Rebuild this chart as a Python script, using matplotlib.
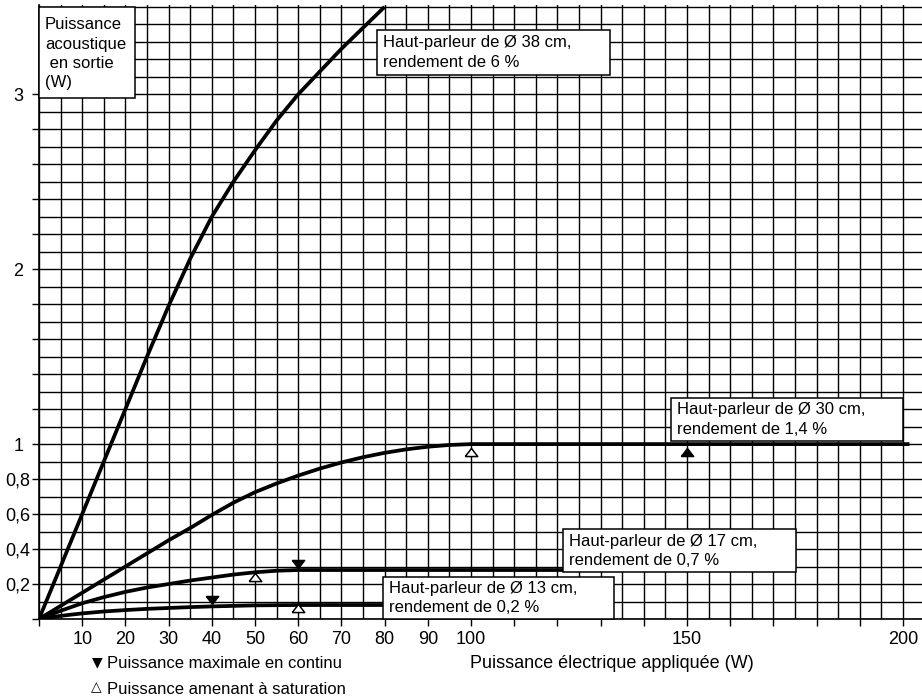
import matplotlib
matplotlib.use("Agg")
import matplotlib.pyplot as plt
from matplotlib.patches import Rectangle

plt.rcParams['font.family'] = ['Liberation Sans', 'DejaVu Sans']
plt.rcParams['font.size'] = 12

# Puissance électrique appliquée (W) -> puissance acoustique (W)
x_38 = [0, 5, 10, 15, 20, 25, 30, 35, 40, 45, 50, 55, 60, 65, 70, 75, 80]
y_38 = [0, 0.3, 0.6, 0.9, 1.2, 1.5, 1.79, 2.06, 2.3, 2.5, 2.68, 2.85, 3.0, 3.13, 3.26, 3.38, 3.5]

x_30 = [0, 5, 10, 15, 20, 25, 30, 35, 40, 45, 50, 55, 60, 65, 70, 75, 80, 85, 90, 95, 100, 201.5]
y_30 = [0, 0.075, 0.15, 0.225, 0.3, 0.375, 0.45, 0.52, 0.595, 0.665, 0.725, 0.775, 0.82,
        0.86, 0.895, 0.925, 0.95, 0.97, 0.985, 0.995, 1.0, 1.0]

x_17 = [0, 5, 10, 15, 20, 25, 30, 35, 40, 45, 50, 55, 60, 125]
y_17 = [0, 0.047, 0.09, 0.125, 0.155, 0.18, 0.2, 0.22, 0.237, 0.254, 0.267, 0.276, 0.28, 0.28]

x_13 = [0, 5, 10, 15, 20, 25, 30, 35, 40, 45, 50, 55, 60, 85]
y_13 = [0, 0.018, 0.032, 0.043, 0.051, 0.058, 0.063, 0.068, 0.072, 0.075, 0.078, 0.079, 0.08, 0.08]

# repères : puissance max en continu (plein) / saturation (vide)
max_x = [40, 60]
max_y = [0.109, 0.314]
max30_x = [150]
max30_y = [0.957]
sat_x = [60, 50, 100]
sat_y = [0.061, 0.242, 0.953]

xtick_vals = list(range(0, 201, 10))
xtick_labels = [str(v) if (v <= 100 or v in (150, 200)) and v > 0 else '' for v in xtick_vals]
ytick_vals = [0.2 * i for i in range(0, 16)]
ytick_labels = {0.2: '0,2', 0.4: '0,4', 0.6: '0,6', 0.8: '0,8', 1.0: '1', 2.0: '2', 3.0: '3'}

# boîtes de texte (x0, x1, y0, y1 en unités des axes), texte
boxes = [
    ((78.2, 132.2, 3.11, 3.368), "Haut-parleur de Ø 38 cm,\nrendement de 6 %"),
    ((146.2, 199.9, 1.018, 1.264), "Haut-parleur de Ø 30 cm,\nrendement de 1,4 %"),
    ((121.3, 175.2, 0.267, 0.515), "Haut-parleur de Ø 17 cm,\nrendement de 0,7 %"),
    ((79.6, 133.1, 0.0, 0.24), "Haut-parleur de Ø 13 cm,\nrendement de 0,2 %"),
]

fig = plt.figure(figsize=(9.22, 6.99), dpi=100)
ax = fig.add_axes([39 / 922, 1 - 619 / 699, 1 - 39 / 922, (619 - 5.1) / 699])
ax.set_xlim(0, 204.4)
ax.set_ylim(0, 3.51)

# quadrillage
ax.set_xticks([5 * i for i in range(41)], minor=True)
ax.set_yticks([0.1 * i for i in range(36)], minor=True)
ax.set_xticks(xtick_vals)
ax.set_xticklabels(xtick_labels)
ax.set_yticks(ytick_vals)
ax.set_yticklabels([ytick_labels.get(round(v, 1), '') for v in ytick_vals])
ax.grid(True, which='both', color='black', linewidth=1.0)
ax.set_axisbelow(True)
ax.tick_params(which='minor', length=0)
ax.tick_params(axis='x', which='major', length=5, width=1, pad=4, labelsize=13)
ax.tick_params(axis='y', which='major', length=5, width=1, pad=10, labelsize=13)
for lab in ax.get_yticklabels():
    lab.set_horizontalalignment('center')
for s in ['top', 'right']:
    ax.spines[s].set_visible(False)
ax.spines['left'].set_linewidth(1.2)
ax.spines['bottom'].set_linewidth(1.2)

for xs, ys in [(x_38, y_38), (x_30, y_30), (x_17, y_17), (x_13, y_13)]:
    ax.plot(xs, ys, color='black', linewidth=2.7, solid_capstyle='butt',
            solid_joinstyle='round', zorder=3)

down_tri = [(-1, 0.65), (1, 0.65), (0, -0.65), (-1, 0.65)]
up_tri = [(-1, -0.65), (1, -0.65), (0, 0.65), (-1, -0.65)]
ax.plot(max_x, max_y, linestyle='none', marker=down_tri, markersize=9,
        color='black', zorder=4)
ax.plot(max30_x, max30_y, linestyle='none', marker=up_tri, markersize=9,
        color='black', zorder=4)
ax.plot(sat_x, sat_y, linestyle='none', marker=up_tri, markersize=9,
        markerfacecolor='white', markeredgecolor='black', markeredgewidth=1.1, zorder=4)

for (x0, x1, y0, y1), txt in boxes:
    ax.add_patch(Rectangle((x0, y0), x1 - x0, y1 - y0, facecolor='white',
                           edgecolor='black', linewidth=1.1, zorder=5, clip_on=False))
    ax.text(x0 + 1.5, (y0 + y1) / 2, txt, ha='left', va='center', fontsize=12,
            linespacing=1.35, zorder=6)

# titre de l'axe vertical dans sa boîte
ax.add_patch(Rectangle((0, 2.98), 22.2, 3.5 - 2.98, facecolor='white',
                       edgecolor='black', linewidth=1.1, zorder=5, clip_on=False))
ax.text(1.4, 3.44, "Puissance\nacoustique\n en sortie\n(W)", ha='left', va='top',
        fontsize=12, linespacing=1.35, zorder=6)

fig.text(470 / 922, 1 - 664 / 699, "Puissance électrique appliquée (W)",
         ha='left', va='center', fontsize=13)
fig.text(92 / 922, 1 - 662 / 699, "▼", family='DejaVu Sans', ha='left', va='center', fontsize=10)
fig.text(107 / 922, 1 - 664 / 699, "Puissance maximale en continu",
         ha='left', va='center', fontsize=12)
fig.text(91 / 922, 1 - 687 / 699, "△", family='DejaVu Sans', ha='left', va='center', fontsize=10)
fig.text(107 / 922, 1 - 689 / 699, "Puissance amenant à saturation",
         ha='left', va='center', fontsize=12)

fig.savefig("out.png", dpi=100)
